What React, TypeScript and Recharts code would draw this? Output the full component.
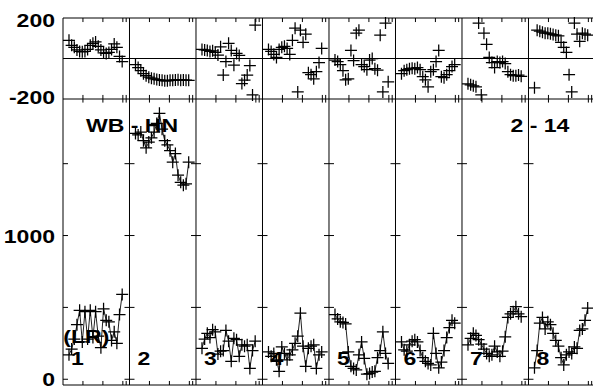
import React from "react";
import { ScatterChart, Scatter, XAxis, YAxis, ReferenceLine, ReferenceDot } from "recharts";

// each panel spans 10 units on the shared x axis
const PANEL = 10;
const X_MAX = 79.7;

const hours = [0.9, 1.3, 1.7, 2.1, 2.5, 2.9, 3.3, 3.7, 4.1, 4.5, 4.9, 5.3, 5.7, 6.1, 6.5, 6.9, 7.3, 7.7, 8.1, 8.5, 8.9];
const panelNames = ["1", "2", "3", "4", "5", "6", "7", "8"];

// amplitude (lower strip)
const ampP1 = [170, 210, 280, 380, 480, 260, 470, 280, 480, 290, 470, 300, 220, 490, 410, 400, 270, 330, 250, 450, 590];
const ampP2 = [1710, 1700, 1720, 1660, 1610, 1650, 1680, 1720, 1780, 1850, 1740, 1660, 1630, 1590, 1510, 1570, 1420, 1370, 1350, 1360, 1510];
const ampP3 = [215, 280, 320, 290, 345, 330, 175, 195, 200, 340, 265, 125, 285, 275, 160, 240, 230, 240, 75, 200, 265];
const ampP4 = [190, 160, 180, 135, 55, 225, 180, 135, 170, 205, 250, 300, 460, 230, 90, 215, 230, 240, 75, 170, 190];
const ampP5 = [450, 420, 400, 395, 385, 190, 90, 75, 65, 170, 260, 145, 35, 40, 50, 55, 150, 200, 330, 180, 110];
const ampP6 = [260, 205, 195, 240, 265, 275, 260, 200, 150, 125, 110, 100, 320, 180, 80, 120, 200, 290, 360, 410, 390];
const ampP7 = [240, 285, 320, 305, 275, 245, 210, 180, 160, 170, 230, 190, 160, 195, 295, 430, 455, 470, 505, 455, 435];
const ampP8 = [80, 200, 390, 430, 350, 400, 380, 320, 270, 230, 150, 100, 170, 190, 180, 225, 215, 340, 350, 410, 495];

// phase (upper strip)
const phaseP1 = [90, 65, 55, 42, 35, 33, 35, 45, 65, 75, 82, 60, 42, 28, 25, 30, 45, 72, 55, 10, -15];
const phaseP2 = [-30, -45, -60, -75, -85, -92, -97, -100, -104, -106, -108, -110, -110, -108, -107, -106, -105, -107, -106, -107, -108];
const phaseP3 = [45, 42, 40, 35, 38, 30, 17, 58, -82, -15, 75, 40, -33, 25, 15, -124, -107, -82, -35, -180, 165];
const phaseP4 = [45, 35, 20, 5, 45, 55, 60, 50, 20, 90, 150, -165, 140, 80, 120, -70, -80, -100, -65, -20, 50];
const phaseP5 = [-8, -15, -30, -60, -105, -100, 40, -10, 125, 140, -30, -40, -55, -8, 0, -50, -58, 115, -165, 175, -115];
const phaseP6 = [-75, -60, -55, -50, -48, -50, -45, -55, -90, -105, -140, -65, -55, -15, 40, -90, -95, -80, -60, -40, -30];
const phaseP7 = [-125, -130, -135, -140, 175, -180, 125, 70, 5, -20, -45, -15, -20, -15, -25, -65, -80, -85, -85, -82, -88];
const phaseP8 = [-145, 140, 135, 130, 125, 125, 122, 118, 115, 112, 80, 55, 30, -80, -165, 175, 120, 85, 125, 120, 115];

const ampByPanel = [ampP1, ampP2, ampP3, ampP4, ampP5, ampP6, ampP7, ampP8];
const phaseByPanel = [phaseP1, phaseP2, phaseP3, phaseP4, phaseP5, phaseP6, phaseP7, phaseP8];

const tickOffsets = [3, 6, 9, 9.5];
const ampTicks = [0, 500, 1000, 1500];
const ampLabels = [0, 1000];
const phaseLabels = [-200, 200];
const PHASE_DOMAIN = [-200, 200];
const AMP_DOMAIN = [-40, 1950];

const panels = ampByPanel.map((amps, p) =>
  hours.map((h, i) => ({ t: p * PANEL + h, amp: amps[i], phase: phaseByPanel[p][i] }))
);
const xTicks = panelNames.flatMap((_, p) => tickOffsets.map((o) => p * PANEL + o));
const borders = panelNames.map((_, p) => p * PANEL).slice(1);

const FONT = "'Liberation Sans', Arial, Helvetica, sans-serif";
const ink = { stroke: "#000", strokeWidth: 1 };

function BoldText({ x, y, text, anchor = "start" }: any) {
  return (
    <text
      transform={`translate(${x},${y}) scale(1.28,1)`}
      textAnchor={anchor}
      fontFamily={FONT}
      fontWeight="bold"
      fontSize={18}
      fill="#000"
    >
      {text}
    </text>
  );
}

const Plus = (props: any) => {
  const { cx, cy } = props;
  if (cx == null || cy == null) return null;
  return <path d={`M${cx - 6},${cy}H${cx + 6}M${cx},${cy - 6}V${cy + 6}`} stroke="#000" strokeWidth={1.25} fill="none" />;
};

const phaseTick = ({ x, y, payload }: any) => (
  <BoldText x={x} y={y + (payload.value > 0 ? 9 : 5)} text={String(payload.value)} anchor="end" />
);
const ampTick = ({ x, y, payload }: any) => (
  <BoldText x={x} y={y + 7} text={String(payload.value)} anchor="end" />
);
const note = (text: string) => ({ viewBox }: any) => <BoldText x={viewBox.x} y={viewBox.y} text={text} />;

// small tick marks along a horizontal edge, pointing into the plot
const edgeTicks = (y: number, len: number, prefix: string) =>
  xTicks.map((t) => (
    <ReferenceLine key={`${prefix}-${t}`} segment={[{ x: t, y }, { x: t, y: y + len }]} {...ink} />
  ));

export default function App() {
  return (
    <div style={{ position: "absolute", left: 0, top: 0, width: 593, height: 389, background: "#fff" }}>
      <div style={{ position: "absolute", left: 0, top: 0 }}>
        <ScatterChart width={593} height={112} margin={{ top: 18, right: 0, bottom: 13, left: 0 }}>
          <XAxis type="number" dataKey="t" domain={[0, X_MAX]} hide />
          <YAxis type="number" dataKey="phase" domain={PHASE_DOMAIN} ticks={phaseLabels} width={63}
            tickSize={0} tickMargin={8} tick={phaseTick} tickLine={false} axisLine={ink} />
          <ReferenceLine y={PHASE_DOMAIN[1]} {...ink} />
          <ReferenceLine y={0} {...ink} />
          <ReferenceLine y={PHASE_DOMAIN[0]} {...ink} />
          {borders.map((b) => (
            <ReferenceLine key={b} x={b} {...ink} />
          ))}
          {edgeTicks(PHASE_DOMAIN[1], -20, "top")}
          {edgeTicks(PHASE_DOMAIN[0], 20, "bot")}
          {panels.map((d, p) => (
            <Scatter key={p} data={d} shape={Plus} isAnimationActive={false} />
          ))}
        </ScatterChart>
      </div>
      <div style={{ position: "absolute", left: 0, top: 0 }}>
        <ScatterChart width={593} height={389} margin={{ top: 99, right: 0, bottom: 4, left: 0 }}>
          <XAxis type="number" dataKey="t" domain={[0, X_MAX]} hide />
          <YAxis type="number" dataKey="amp" domain={AMP_DOMAIN} ticks={ampLabels} width={63}
            tickSize={0} tickMargin={8} tick={ampTick} tickLine={false} axisLine={ink} />
          <ReferenceLine y={AMP_DOMAIN[0]} {...ink} />
          {borders.map((b) => (
            <ReferenceLine key={b} x={b} {...ink} />
          ))}
          {edgeTicks(AMP_DOMAIN[1], -25, "top")}
          {edgeTicks(AMP_DOMAIN[0], 28, "bot")}
          {[0, ...borders].flatMap((b) =>
            ampTicks.map((v) => (
              <ReferenceLine key={`${b}-${v}`} segment={[{ x: Math.max(0, b - 0.75), y: v }, { x: b + 0.75, y: v }]}
                {...ink} />
            ))
          )}
          {panels.map((d, p) => (
            <Scatter key={p} data={d} shape={Plus} line={{ stroke: "#222", strokeWidth: 1 }} lineType="joint"
              isAnimationActive={false} />
          ))}
          <ReferenceDot x={3.45} y={1723} r={0} fill="none" stroke="none" label={note("WB - HN")} />
          <ReferenceDot x={67.3} y={1723} r={0} fill="none" stroke="none" label={note("2 - 14")} />
          <ReferenceDot x={0.05} y={252} r={0} fill="none" stroke="none" label={note("(LR)")} />
          {panelNames.map((n, p) => (
            <ReferenceDot key={n} x={p * PANEL + 1.2} y={99} r={0} fill="none" stroke="none" label={note(n)} />
          ))}
        </ScatterChart>
      </div>
    </div>
  );
}
